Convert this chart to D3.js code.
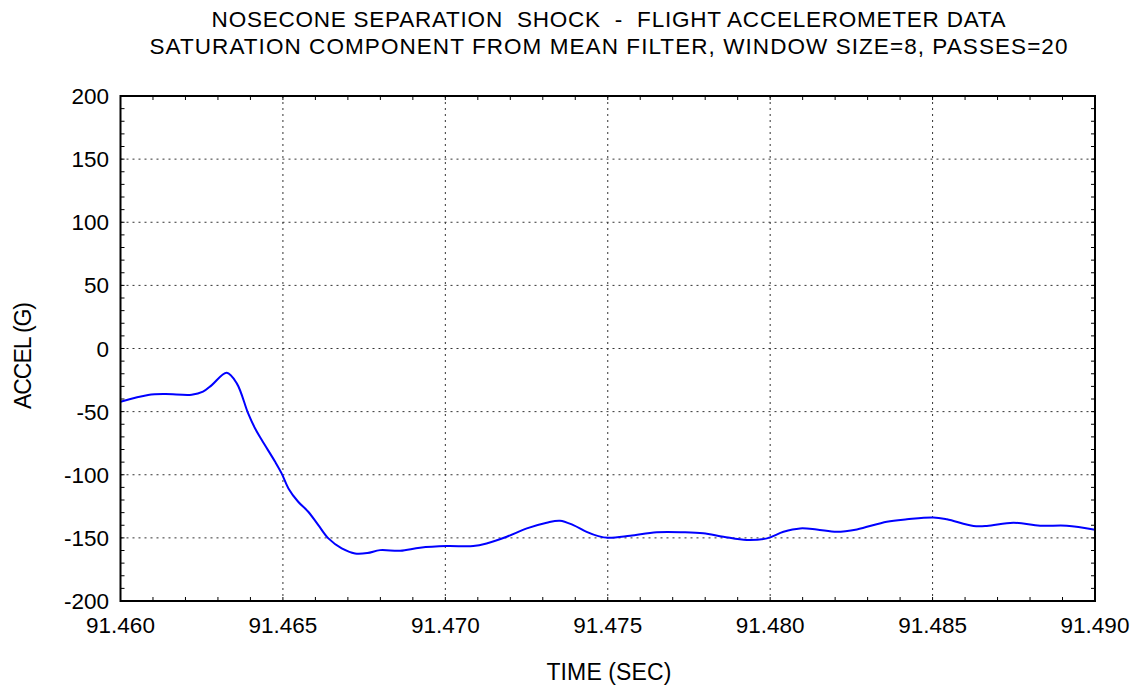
<!DOCTYPE html>
<html><head><meta charset="utf-8">
<script src="https://cdn.jsdelivr.net/npm/d3@7"></script>
<style>
html,body{margin:0;padding:0;background:#fff;}
text{font-family:"Liberation Sans",Arial,sans-serif;fill:#000;white-space:pre;}
</style></head>
<body>
<svg id="chart" width="1139" height="688"></svg>
<script>
const titleLines = ["NOSECONE SEPARATION  SHOCK  -  FLIGHT ACCELEROMETER DATA",
                    "SATURATION COMPONENT FROM MEAN FILTER, WINDOW SIZE=8, PASSES=20"];
const xLabel = "TIME (SEC)";
const yLabel = "ACCEL (G)";
const xTicks = [91.460, 91.465, 91.470, 91.475, 91.480, 91.485, 91.490];
const yTicks = [-200, -150, -100, -50, 0, 50, 100, 150, 200];
const time = [91.4600, 91.46085, 91.46137, 91.46219, 91.46254, 91.46281, 91.46327, 91.46358,
  91.46393, 91.46414, 91.46435, 91.46476, 91.46496, 91.46517, 91.46547, 91.46578, 91.46609,
  91.46640, 91.46681, 91.46722, 91.46760, 91.46799, 91.46861, 91.46922, 91.47004, 91.47086,
  91.47127, 91.47189, 91.47251, 91.47312, 91.47353, 91.47394, 91.47435, 91.47471, 91.47502,
  91.47569, 91.47651, 91.47733, 91.47794, 91.47856, 91.47928, 91.47990, 91.48041, 91.48092,
  91.48143, 91.48205, 91.48267, 91.48359, 91.48421, 91.48502, 91.48544, 91.48626, 91.48667,
  91.48749, 91.48831, 91.48913, 91.4900];
const accel = [-42.2, -36.8, -36.0, -36.6, -34.2, -29.0, -19.2, -27.6,
  -51.4, -63.2, -72.5, -89.7, -98.9, -110.8, -121.4, -129.3, -139.9,
  -150.4, -158.3, -162.3, -162.0, -159.7, -160.2, -157.8, -156.5, -156.5,
  -154.4, -149.1, -142.5, -138.0, -136.4, -139.9, -145.2, -148.6, -149.9,
  -148.3, -145.6, -145.6, -146.4, -149.1, -151.7, -150.4, -145.2, -142.5,
  -143.3, -145.2, -143.3, -137.2, -135.3, -133.8, -135.3, -140.6, -140.6,
  -138.0, -140.4, -140.4, -143.5];

const svg = d3.select("#chart");
const L = 120.5, R = 1095, T = 96, B = 601;
const x = d3.scaleLinear().domain([91.460, 91.490]).range([L, R]);
const y = d3.scaleLinear().domain([-200, 200]).range([B, T]);

function fitWidth(sel, target) {
  sel.each(function() {
    const n = this.textContent.length;
    const w = this.getComputedTextLength();
    const ls = (target - w) / Math.max(1, n - 1);
    d3.select(this).style("letter-spacing", ls + "px");
  });
}

// grid
const g = svg.append("g");
g.selectAll("line.gx").data(xTicks.slice(1, -1)).enter().append("line")
  .attr("x1", d => x(d)).attr("x2", d => x(d)).attr("y1", T).attr("y2", B)
  .attr("stroke", "#333").attr("stroke-width", 1).attr("stroke-dasharray", "2,4");
g.selectAll("line.gy").data(yTicks.slice(1, -1)).enter().append("line")
  .attr("x1", L).attr("x2", R).attr("y1", d => y(d)).attr("y2", d => y(d))
  .attr("stroke", "#333").attr("stroke-width", 1).attr("stroke-dasharray", "2,4");

// minor ticks
const yMinor = d3.range(-190, 200, 10);
const xMinor = d3.range(1, 30).map(i => 91.460 + i * 0.001);
const tk = svg.append("g").attr("stroke", "#000").attr("stroke-width", 1);
yMinor.forEach(v => {
  tk.append("line").attr("x1", L).attr("x2", L + 4).attr("y1", y(v)).attr("y2", y(v));
  tk.append("line").attr("x1", R - 4).attr("x2", R).attr("y1", y(v)).attr("y2", y(v));
});
xMinor.forEach(v => {
  tk.append("line").attr("x1", x(v)).attr("x2", x(v)).attr("y1", T).attr("y2", T + 4);
  tk.append("line").attr("x1", x(v)).attr("x2", x(v)).attr("y1", B - 4).attr("y2", B);
});

// data line
const line = d3.line().x((d, i) => x(time[i])).y(d => y(d)).curve(d3.curveCatmullRom.alpha(0.5));
svg.append("path").datum(accel).attr("d", line)
  .attr("fill", "none").attr("stroke", "#0000ff").attr("stroke-width", 2);

// frame
svg.append("rect").attr("x", L).attr("y", T).attr("width", R - L).attr("height", B - T)
  .attr("fill", "none").attr("stroke", "#000").attr("stroke-width", 2);

// tick labels
svg.selectAll("text.xt").data(xTicks).enter().append("text")
  .attr("x", d => x(d)).attr("y", 633).attr("text-anchor", "middle")
  .style("font-size", "22.5px").text(d => d3.format(".3f")(d));
svg.selectAll("text.yt").data(yTicks).enter().append("text")
  .attr("x", 109).attr("y", d => y(d) + 8).attr("text-anchor", "end")
  .style("font-size", "22.5px").text(d => d);

// axis labels
svg.append("text").attr("x", 609).attr("y", 680).attr("text-anchor", "middle")
  .style("font-size", "23px").text(xLabel).call(fitWidth, 125);
svg.append("text").attr("transform", "translate(31,356) rotate(-90)")
  .attr("text-anchor", "middle").style("font-size", "23px").text(yLabel).call(fitWidth, 107);

// title
svg.selectAll("text.title").data(titleLines).enter().append("text")
  .attr("x", 609).attr("y", (d, i) => 27 + i * 26.5).attr("text-anchor", "middle")
  .style("font-size", "22.5px").text(d => d)
  .each(function(d, i) { d3.select(this).call(fitWidth, i === 0 ? 794 : 918); });
</script>
</body></html>
